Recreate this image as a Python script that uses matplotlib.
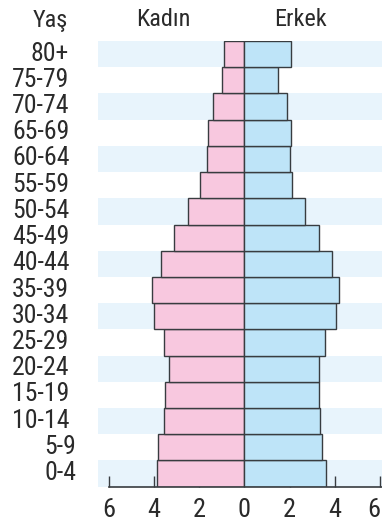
import matplotlib
matplotlib.use("Agg")
import matplotlib.pyplot as plt

# Population pyramid data (percent of population by age group)
age_groups = ["0-4", "5-9", "10-14", "15-19", "20-24", "25-29", "30-34", "35-39",
              "40-44", "45-49", "50-54", "55-59", "60-64", "65-69", "70-74", "75-79", "80+"]
female = [3.85, 3.8, 3.55, 3.5, 3.35, 3.55, 4.0, 4.1,
          3.7, 3.1, 2.5, 1.95, 1.65, 1.6, 1.4, 1.0, 0.9]
male = [3.6, 3.45, 3.35, 3.3, 3.3, 3.55, 4.05, 4.2,
        3.9, 3.3, 2.7, 2.1, 2.0, 2.05, 1.9, 1.5, 2.05]
tick_values = [-6, -4, -2, 0, 2, 4, 6]
tick_labels = ["6", "4", "2", "0", "2", "4", "6"]
headers = ["Yaş", "Kadın", "Erkek"]

FONT = ["Roboto Condensed", "DejaVu Sans"]
plt.rcParams["font.family"] = FONT

PINK = "#f8c8df"
BLUE = "#bee4f8"
BAND = "#e8f4fc"
EDGE = "#383c40"
TEXT = "#2a2a2a"

W, H = 382, 521
fig = plt.figure(figsize=(W / 100, H / 100), dpi=100)

# axes placement in pixels
left_px, right_px, top_px, bottom_px = 98, 382, 41, 486.7
ax = fig.add_axes([left_px / W, (H - bottom_px) / H,
                   (right_px - left_px) / W, (bottom_px - top_px) / H])

zero_px, unit_px = 244.3, 22.6
ax.set_xlim((left_px - zero_px) / unit_px, (right_px - zero_px) / unit_px)
ax.set_ylim(-0.5, len(age_groups) - 0.5)

y = list(range(len(age_groups)))

# alternating light bands
for i in y:
    if i % 2 == 0:
        ax.axhspan(i - 0.5, i + 0.5, color=BAND, lw=0, zorder=0)

ax.barh(y, [-v for v in female], height=1.0, color=PINK, edgecolor=EDGE,
        linewidth=1.0, zorder=2)
ax.barh(y, male, height=1.0, color=BLUE, edgecolor=EDGE,
        linewidth=1.0, zorder=2)

for s in ["top", "right", "left"]:
    ax.spines[s].set_visible(False)
ax.spines["bottom"].set_bounds(-6, ax.get_xlim()[1])
ax.spines["bottom"].set_linewidth(1.2)
ax.spines["bottom"].set_color(EDGE)
ax.spines["bottom"].set_zorder(3)

ax.set_yticks([])
ax.set_xticks(tick_values)
ax.set_xticklabels(tick_labels)
ax.tick_params(axis="x", direction="in", length=8, width=1.0, color=EDGE,
               pad=8, labelsize=19, labelcolor=TEXT)
for t in ax.xaxis.get_major_ticks():
    t.tick1line.set_zorder(3)
# the outermost label sits against the right edge
ax.get_xticklabels()[-1].set_horizontalalignment("right")

# age group labels
row_px = (bottom_px - top_px) / len(age_groups)
for i, lab in enumerate(age_groups):
    center = bottom_px - (i + 0.5) * row_px
    base = center + 6.5
    if len(lab) == 5:
        fig.text(12 / W, (H - base) / H, lab, ha="left", va="baseline",
                 fontsize=18.5, color=TEXT)
    else:
        xr = 69 if lab == "80+" else 76
        fig.text(xr / W, (H - base) / H, lab, ha="right", va="baseline",
                 fontsize=18.5, color=TEXT)

# column headers
for lab, xc in zip(headers, [50, 163, 301]):
    fig.text(xc / W, (H - 26.5) / H, lab, ha="center", va="baseline",
             fontsize=17.5, color=TEXT)

fig.savefig("out.png", dpi=100)
